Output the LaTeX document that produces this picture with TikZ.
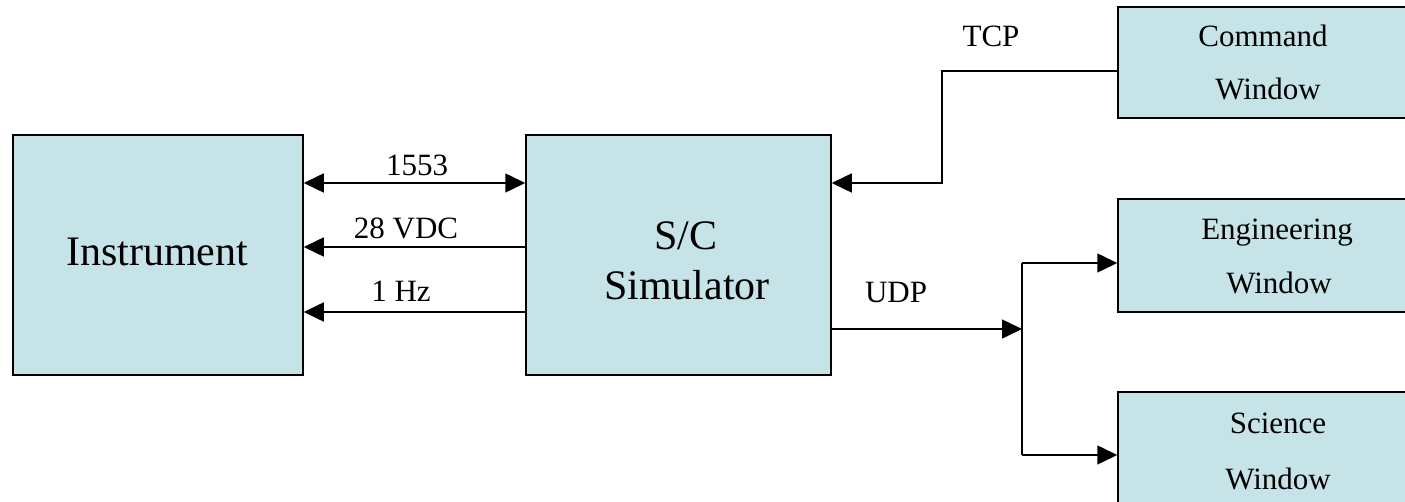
\documentclass[tikz,border=0pt]{standalone}
\usepackage{fontspec}
\setmainfont{Liberation Serif}
\usetikzlibrary{arrows.meta}
\definecolor{boxfill}{RGB}{198,228,232}
\begin{document}
\begin{tikzpicture}[x=1pt,y=-1pt,
  blk/.style={draw=black, line width=1.5pt, fill=boxfill, inner sep=0pt},
  bigtext/.style={font=\fontsize{42}{50}\selectfont, anchor=base, inner sep=0pt},
  wintext/.style={font=\fontsize{31}{36}\selectfont, anchor=base, inner sep=0pt},
  lbl/.style={font=\fontsize{31}{36}\selectfont, anchor=base, inner sep=0pt},
  link/.style={line width=1.5pt},
  tip/.style={-{Triangle[length=20pt,width=19pt]}},
  both/.style={{Triangle[length=20pt,width=19pt]}-{Triangle[length=20pt,width=19pt]}}]
\useasboundingbox (0,0) rectangle (1405,502);

% main blocks
\node[blk, minimum width=290pt, minimum height=240pt] (inst) at (158,255) {};
\node[bigtext] (inst-t) at (157,266) {Instrument};
\node[blk, minimum width=305pt, minimum height=240pt] (sim) at (678.5,255) {};
\node[bigtext] (sim-t1) at (686,250) {S/C};
\node[bigtext] (sim-t2) at (687,300) {Simulator};

% display windows (their right edges run past the page)
\node[blk, minimum width=320pt, minimum height=111pt] (cmd) at (1278,62.5) {};
\node[wintext] (cmd-t1) at (1263,47) {Command};
\node[wintext] (cmd-t2) at (1268,100) {Window};
\node[blk, minimum width=320pt, minimum height=113pt] (eng) at (1278,255.5) {};
\node[wintext] (eng-t1) at (1277,240) {Engineering};
\node[wintext] (eng-t2) at (1279,294) {Window};
\node[blk, minimum width=320pt, minimum height=114pt] (sci) at (1278,449) {};
\node[wintext] (sci-t1) at (1278,433) {Science};
\node[wintext] (sci-t2) at (1278,489) {Window};

% instrument <-> simulator links
\draw[link,both] ([yshift=72pt]inst.east) -- ([yshift=72pt]sim.west);
\draw[link,tip] ([yshift=8pt]sim.west) -- ([yshift=8pt]inst.east);
\draw[link,tip] ([yshift=-57pt]sim.west) -- ([yshift=-57pt]inst.east);
\node[lbl] (l1553) at (417,176) {1553};
\node[lbl] (lvdc) at (406,239) {28 VDC};
\node[lbl] (lhz) at (401,302) {1 Hz};

% TCP command path
\coordinate (cmdport) at ([yshift=-8.5pt]cmd.west);
\coordinate (simin) at ([yshift=72pt]sim.east);
\coordinate (tcpx) at (942,0);
\draw[link,tip] (cmdport) -- (cmdport -| tcpx) -- (simin -| tcpx) -- (simin);
\node[lbl] (ltcp) at (991,47) {TCP};

% UDP telemetry fan-out
\coordinate (simout) at ([yshift=-74pt]sim.east);
\coordinate (split) at (1022,329);
\coordinate (engin) at ([yshift=-7.5pt]eng.west);
\coordinate (sciin) at ([yshift=-6pt]sci.west);
\draw[link,tip] (simout) -- (simout -| split);
\draw[link] (engin -| split) -- (sciin -| split);
\draw[link,tip] (engin -| split) -- (engin);
\draw[link,tip] (sciin -| split) -- (sciin);
\node[lbl] (ludp) at (896,303) {UDP};
\end{tikzpicture}
\end{document}
